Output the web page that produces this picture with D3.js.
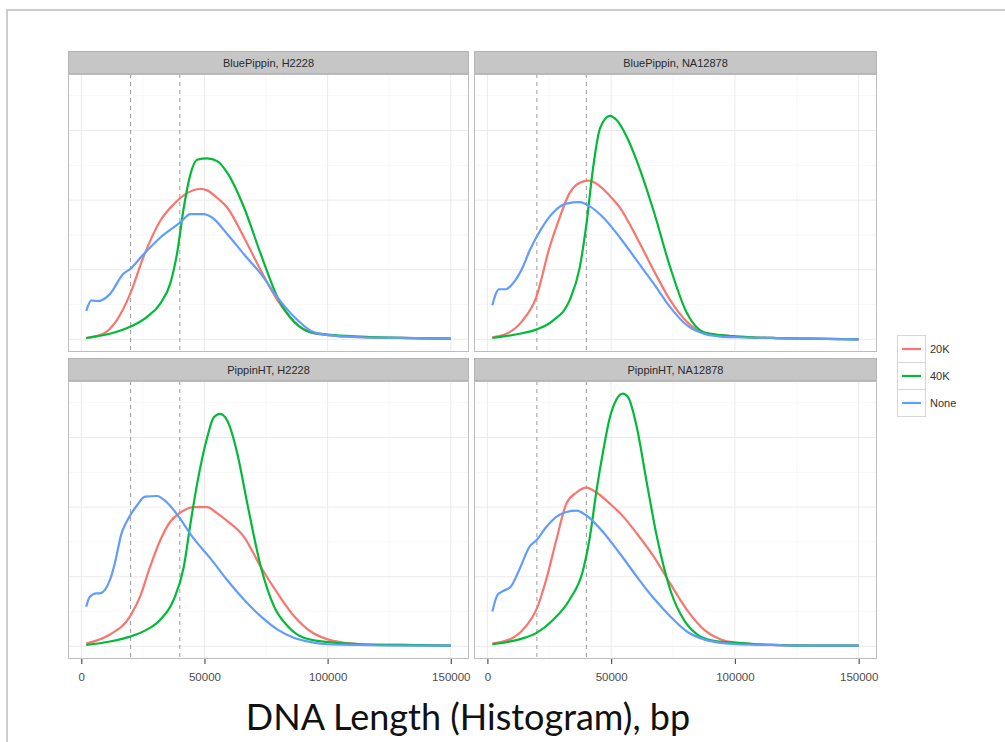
<!DOCTYPE html>
<html>
<head>
    <script type="text/javascript" src="https://cdn.jsdelivr.net/npm/d3@7"></script>
    <style>
    body {
        padding: 0;
        margin: 0;
        background: #fff;
    }
    #viz svg { display: block; }
  </style>
</head>
<body>
    <div id="viz"></div>
    <script type="text/javascript">

    // facet panels, in reading order
    var panels = ["BluePippin, H2228", "BluePippin, NA12878", "PippinHT, H2228", "PippinHT, NA12878"];
    var groups = ["20K", "40K", "None"];
    var colors = ["#F8766D", "#00BA38", "#619CFF"];
    var xTicks = [0, 50000, 100000, 150000];
    var xMinor = [25000, 75000, 125000];
    var yGrid = [0, 1, 2, 3];
    var yMinor = [0.5, 1.5, 2.5, 3.5];
    var cutoffs = [20000, 40000];

    // [bp, density] (arbitrary density units)
    var blueH2228_20K = [[2000,0.02],[8900,0.08],[14300,0.27],[19800,0.65],[25200,1.18],[32000,1.70],[37500,1.94],[42900,2.10],[48400,2.16],[51100,2.14],[55200,2.03],[59300,1.89],[66100,1.46],[72900,0.99],[79700,0.56],[86500,0.25],[93300,0.10],[100100,0.06],[113800,0.03],[130000,0.02],[150000,0.01]];
    var blueH2228_40K = [[2000,0.02],[11600,0.08],[19800,0.18],[26600,0.32],[32000,0.51],[36100,0.80],[38800,1.22],[41600,1.89],[44300,2.37],[47000,2.58],[51100,2.60],[55200,2.56],[59300,2.39],[66100,1.89],[72900,1.22],[79700,0.60],[86500,0.25],[93300,0.10],[100100,0.07],[113800,0.04],[130000,0.02],[150000,0.01]];
    var blueH2228_None = [[2000,0.41],[4100,0.56],[6800,0.55],[11600,0.65],[17000,0.94],[19800,1.01],[25200,1.22],[32000,1.46],[40200,1.68],[44300,1.80],[49700,1.80],[53100,1.75],[59300,1.51],[66100,1.22],[72900,0.94],[79700,0.60],[86500,0.32],[93300,0.12],[100100,0.06],[113800,0.03],[130000,0.02],[150000,0.01]];

    var blueNA_20K = [[2000,0.03],[8800,0.10],[14200,0.27],[19700,0.60],[25100,1.32],[29200,1.75],[33200,2.10],[37300,2.25],[40700,2.28],[44800,2.22],[49500,2.06],[53600,1.89],[60400,1.46],[67200,0.99],[73900,0.56],[80700,0.25],[87500,0.09],[94300,0.06],[101100,0.04],[115000,0.02],[130000,0.01],[150000,0.0]];
    var blueNA_40K = [[2000,0.02],[12900,0.08],[19700,0.14],[26500,0.27],[33200,0.56],[37300,1.03],[40000,1.65],[42700,2.46],[45500,3.03],[49500,3.21],[52200,3.15],[56300,2.91],[60400,2.56],[67200,1.84],[73900,1.03],[80700,0.37],[87500,0.10],[94300,0.06],[101100,0.04],[115000,0.02],[130000,0.01],[150000,0.0]];
    var blueNA_None = [[2000,0.49],[4700,0.72],[7500,0.72],[10200,0.80],[14200,1.03],[17000,1.27],[19700,1.46],[26500,1.82],[31900,1.95],[37300,1.97],[41400,1.91],[46800,1.75],[53600,1.46],[60400,1.13],[67200,0.80],[73900,0.46],[80700,0.20],[87500,0.08],[94300,0.04],[101100,0.03],[115000,0.02],[130000,0.01],[150000,0.0]];

    var htH2228_20K = [[2000,0.04],[11600,0.17],[19800,0.43],[23800,0.71],[27900,1.14],[32000,1.52],[36100,1.79],[40200,1.92],[45600,2.00],[51100,2.00],[55200,1.91],[59300,1.80],[66100,1.57],[72900,1.14],[79700,0.76],[86500,0.43],[93300,0.21],[100100,0.10],[107000,0.05],[113800,0.03],[130000,0.02],[150000,0.01]];
    var htH2228_40K = [[2000,0.02],[11600,0.07],[19800,0.14],[26600,0.24],[32000,0.38],[37500,0.67],[41600,1.14],[44300,1.76],[47000,2.33],[51100,3.00],[53800,3.29],[56300,3.34],[59300,3.24],[63400,2.76],[67400,2.05],[72900,1.14],[78300,0.57],[83800,0.29],[90600,0.12],[100100,0.06],[113800,0.03],[130000,0.02],[150000,0.01]];
    var htH2228_None = [[2000,0.57],[3400,0.71],[6100,0.76],[7500,0.76],[11600,0.95],[13600,1.19],[16300,1.62],[18400,1.79],[22500,2.02],[25900,2.15],[30700,2.16],[34700,2.07],[38800,1.90],[45600,1.55],[52500,1.26],[59300,0.95],[66100,0.67],[72900,0.43],[79700,0.24],[86500,0.12],[93300,0.06],[100100,0.03],[113800,0.02],[130000,0.01],[150000,0.01]];

    var htNA_20K = [[2000,0.04],[10200,0.12],[15600,0.29],[19700,0.52],[23700,0.95],[27800,1.52],[31900,2.05],[36000,2.21],[40000,2.28],[44100,2.21],[49500,2.05],[55000,1.86],[60400,1.62],[67200,1.29],[73900,0.90],[80700,0.52],[87500,0.24],[94300,0.10],[101100,0.05],[107900,0.03],[130000,0.01],[150000,0.01]];
    var htNA_40K = [[2000,0.03],[12900,0.10],[19700,0.19],[26500,0.38],[33200,0.67],[38700,1.10],[41400,1.57],[44100,2.24],[46800,2.81],[49500,3.29],[52200,3.55],[54700,3.63],[57000,3.57],[60400,3.14],[64500,2.33],[68500,1.57],[73900,0.81],[79400,0.38],[84800,0.17],[91600,0.08],[101100,0.05],[114700,0.02],[130000,0.01],[150000,0.01]];
    var htNA_None = [[2000,0.50],[4100,0.74],[6100,0.79],[9500,0.86],[12900,1.10],[17000,1.43],[19700,1.52],[23700,1.71],[27800,1.86],[31900,1.93],[36000,1.95],[40000,1.88],[46800,1.64],[53600,1.33],[60400,1.00],[67200,0.69],[73900,0.43],[80700,0.21],[87500,0.10],[94300,0.05],[101100,0.03],[115000,0.02],[130000,0.01],[150000,0.01]];

    var series = [
      [blueH2228_20K, blueH2228_40K, blueH2228_None],
      [blueNA_20K, blueNA_40K, blueNA_None],
      [htH2228_20K, htH2228_40K, htH2228_None],
      [htNA_20K, htNA_40K, htNA_None]
    ];

    // layout
    var W = 1005, H = 742;
    var colX = [[68, 469], [474, 877]];
    var rowY = [[51, 74, 352], [358, 381, 659]]; // strip top, panel top, panel bottom

    var svg = d3.select('#viz').append('svg')
      .attr('width', W).attr('height', H)
      .style('font-family', '"Liberation Sans", Arial, sans-serif');

    // slide frame
    svg.append('path')
      .attr('d', 'M7,742V10H1005')
      .attr('fill', 'none')
      .attr('stroke', '#bdbdbd')
      .attr('stroke-width', 1.5);

    var xLo = 2000, xHi = 150000, xPad = (xHi - xLo) * 0.05;
    var yMax = d3.max(series, function(p) { return d3.max(p, function(s) { return d3.max(s, function(d) { return d[1]; }); }); });

    panels.forEach(function(name, i) {
      var c = colX[i % 2], r = rowY[Math.floor(i / 2)];
      var x = d3.scaleLinear().domain([xLo - xPad, xHi + xPad]).range([c[0], c[1]]);
      var y = d3.scaleLinear().domain([-0.05 * yMax, yMax * 1.05]).range([r[2], r[1]]);
      var g = svg.append('g');

      g.append('rect')
        .attr('x', c[0]).attr('y', r[1])
        .attr('width', c[1] - c[0]).attr('height', r[2] - r[1])
        .attr('fill', '#fff');

      // minor grid
      g.selectAll('.xm').data(xMinor).enter().append('line')
        .attr('x1', x).attr('x2', x).attr('y1', r[1]).attr('y2', r[2])
        .attr('stroke', '#f7f7f7').attr('stroke-width', 1);
      g.selectAll('.ym').data(yMinor).enter().append('line')
        .attr('y1', y).attr('y2', y).attr('x1', c[0]).attr('x2', c[1])
        .attr('stroke', '#f7f7f7').attr('stroke-width', 1);
      // major grid
      g.selectAll('.xg').data(xTicks).enter().append('line')
        .attr('x1', x).attr('x2', x).attr('y1', r[1]).attr('y2', r[2])
        .attr('stroke', '#ebebeb').attr('stroke-width', 1);
      g.selectAll('.yg').data(yGrid).enter().append('line')
        .attr('y1', y).attr('y2', y).attr('x1', c[0]).attr('x2', c[1])
        .attr('stroke', '#ebebeb').attr('stroke-width', 1);

      // size cutoffs
      g.selectAll('.cut').data(cutoffs).enter().append('line')
        .attr('x1', x).attr('x2', x).attr('y1', r[1]).attr('y2', r[2])
        .attr('stroke', '#9a9a9a').attr('stroke-width', 1)
        .attr('stroke-dasharray', '4,4');

      var line = d3.line()
        .x(function(d) { return x(d[0]); })
        .y(function(d) { return y(d[1]); })
        .curve(d3.curveMonotoneX);

      g.selectAll('.curve').data(series[i]).enter().append('path')
        .attr('d', line)
        .attr('fill', 'none')
        .attr('stroke', function(d, k) { return colors[k]; })
        .attr('stroke-width', 2.2)
        .attr('stroke-linejoin', 'round');

      g.append('rect')
        .attr('x', c[0] + 0.5).attr('y', r[1] + 0.5)
        .attr('width', c[1] - c[0] - 1).attr('height', r[2] - r[1] - 1)
        .attr('fill', 'none').attr('stroke', '#bdbdbd');

      // strip
      g.append('rect')
        .attr('x', c[0] + 0.5).attr('y', r[0] + 0.5)
        .attr('width', c[1] - c[0] - 1).attr('height', r[1] - r[0] - 1)
        .attr('fill', '#c6c6c6').attr('stroke', '#b4b4b4');
      g.append('text')
        .attr('x', (c[0] + c[1]) / 2).attr('y', (r[0] + r[1]) / 2 + 4)
        .attr('text-anchor', 'middle')
        .attr('font-size', 11).attr('fill', '#2a2a2a')
        .text(name);

      // x axis only on the bottom row
      if (i >= 2) {
        var ax = g.append('g')
          .attr('transform', 'translate(0,' + r[2] + ')')
          .call(d3.axisBottom(x).tickValues(xTicks).tickFormat(d3.format('d')).tickSize(5).tickPadding(9));
        ax.select('.domain').remove();
        ax.selectAll('line').attr('stroke', '#555').attr('stroke-width', 1.2);
        ax.selectAll('text').attr('font-size', 11.5).attr('fill', '#4d4d4d')
          .attr('font-family', '"Liberation Sans", Arial, sans-serif');
      }
    });

    // legend
    var legX = 897, legY = 335, keyW = 28, keyH = 27;
    var leg = svg.append('g');
    groups.forEach(function(name, k) {
      var ky = legY + k * keyH;
      leg.append('rect')
        .attr('x', legX + 0.5).attr('y', ky + 0.5)
        .attr('width', keyW).attr('height', keyH)
        .attr('fill', '#fff').attr('stroke', '#d6d6d6');
      leg.append('line')
        .attr('x1', legX + 5).attr('x2', legX + keyW - 4)
        .attr('y1', ky + keyH / 2 + 0.5).attr('y2', ky + keyH / 2 + 0.5)
        .attr('stroke', colors[k]).attr('stroke-width', 2.2);
      leg.append('text')
        .attr('x', legX + keyW + 5).attr('y', ky + keyH / 2 + 4.5)
        .attr('font-size', 11).attr('fill', '#333')
        .text(name);
    });

    // axis title
    svg.append('text')
      .attr('x', 468).attr('y', 730)
      .attr('text-anchor', 'middle')
      .attr('font-family', 'Lato, "Open Sans", sans-serif')
      .attr('font-size', 36)
      .attr('fill', '#111')
      .text('DNA Length (Histogram), bp');
    </script>
</body>
</html>
